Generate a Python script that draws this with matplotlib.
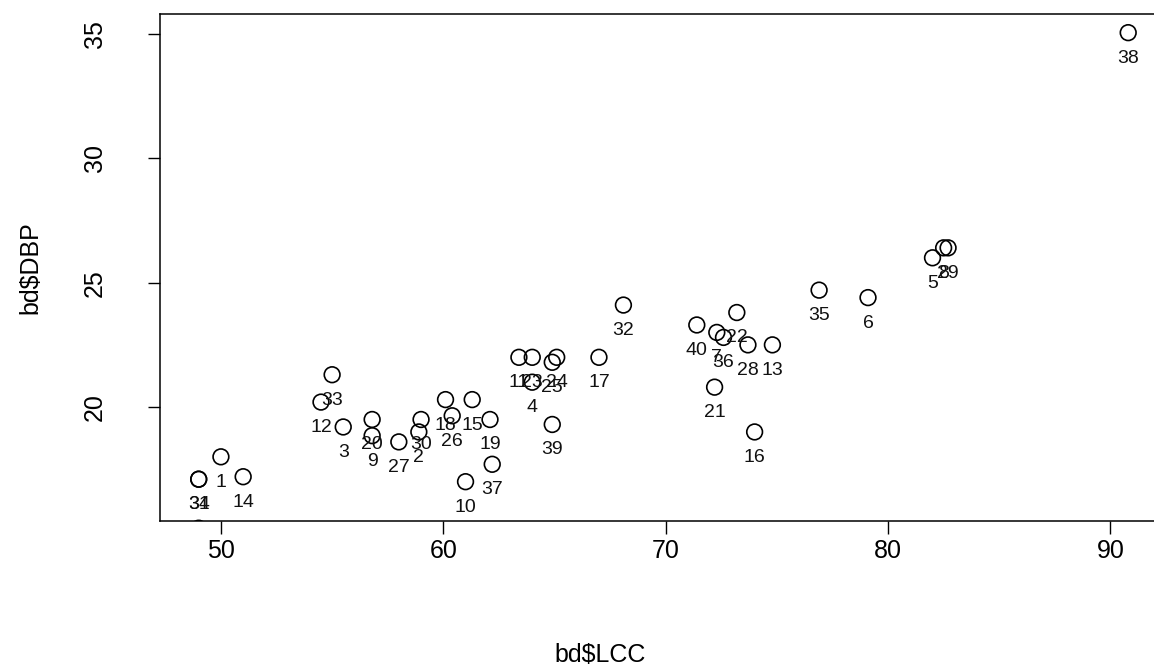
import matplotlib
matplotlib.use("Agg")
import matplotlib.pyplot as plt

plt.rcParams['font.family'] = ['Liberation Sans', 'DejaVu Sans']

labels = [str(i) for i in range(1, 42)]
lcc = [50.0, 58.9, 55.5, 64.0, 82.0, 79.1, 72.3, 82.5, 56.8, 61.0,
       63.4, 54.5, 74.8, 51.0, 61.3, 74.0, 67.0, 60.1, 62.1, 56.8,
       72.2, 73.2, 64.0, 65.1, 64.9, 60.4, 58.0, 73.7, 82.7, 59.0,
       49.0, 68.1, 55.0, 49.0, 76.9, 72.6, 62.2, 90.8, 64.9, 71.4,
       49.0]
dbp = [18.0, 19.0, 19.2, 21.0, 26.0, 24.4, 23.0, 26.4, 18.85, 17.0,
       22.0, 20.2, 22.5, 17.2, 20.3, 19.0, 22.0, 20.3, 19.5, 19.5,
       20.8, 23.8, 22.0, 22.0, 21.8, 19.65, 18.6, 22.5, 26.4, 19.5,
       17.1, 24.1, 21.3, 17.1, 24.7, 22.8, 17.7, 35.05, 19.3, 23.3,
       15.13]
xticks = [50, 60, 70, 80, 90]
yticks = [20, 25, 30, 35]

W, H = 1154, 671
fig = plt.figure(figsize=(W / 100, H / 100), dpi=100)
# axes box in pixels: left 160, top 14, bottom 521, right beyond the image
l, t, b, r = 160, 14, 521, 1166
ax = fig.add_axes([l / W, (H - b) / H, (r - l) / W, (b - t) / H])

ax.scatter(lcc, dbp, s=11.3 ** 2, facecolors='none', edgecolors='black',
           linewidths=1.2, zorder=3)
for lab, x, y in zip(labels, lcc, dbp):
    ax.annotate(lab, (x, y), xytext=(0, -18.3), textcoords='offset points',
                ha='center', va='center', fontsize=14, color='#111111',
                annotation_clip=True, clip_on=True)

ax.set_xlim(47.26, 92.5)
ax.set_ylim(15.42, 35.8)
ax.set_xticks(xticks)
ax.set_yticks(yticks)
ax.set_xticklabels([str(v) for v in xticks], fontsize=18)
ax.set_yticklabels([str(v) for v in yticks], fontsize=18, rotation=90,
                   va='center')
ax.tick_params(axis='both', direction='out', length=9, width=1.0,
               color='black')
ax.tick_params(axis='x', pad=4)
ax.tick_params(axis='y', pad=29)
for s in ax.spines.values():
    s.set_linewidth(1.1)
    s.set_color('black')

fig.text(600 / W, 1 - 655 / H, 'bd$LCC', ha='center', va='center',
         fontsize=18)
fig.text(30 / W, 1 - 268 / H, 'bd$DBP', ha='center', va='center',
         fontsize=18, rotation=90)

fig.savefig('out.png', dpi=100)
